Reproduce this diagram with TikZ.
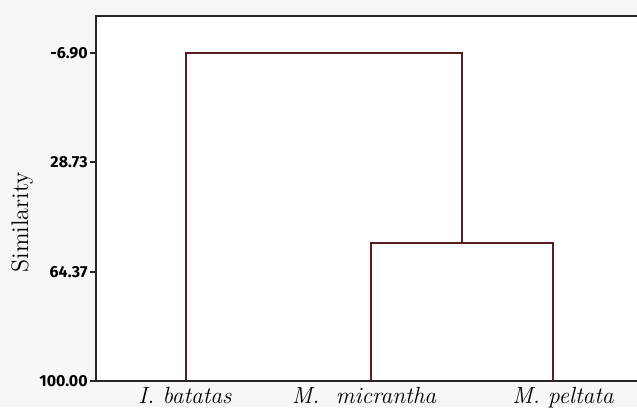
\documentclass[tikz,border=0pt]{standalone}
\usepackage{fontspec}
\newfontfamily\tickfont{Fira Sans}
\usetikzlibrary{positioning}
\definecolor{dend}{HTML}{5A1E22}
\definecolor{paper}{HTML}{F7F7F4}
\tikzset{
  axis/.style={draw=black!85,line width=1.1pt},
  link/.style={draw=dend,line width=1.2pt},
  tick/.style={font=\tickfont\bfseries\fontsize{8}{9}\selectfont,anchor=east,inner sep=1pt},
  leaf/.style={font=\itshape\fontsize{11.7}{12}\selectfont,anchor=base,inner sep=0pt},
}
\begin{document}
\begin{tikzpicture}[x=0.5pt,y=-0.5pt]
 \fill[paper] (0,0) rectangle (637,407); \fill[white] (96,16) rectangle (637,381);
 \useasboundingbox (0,0) rectangle (637,407);
 % axes and ticks
 \draw[axis] (637,16) -- (96,16) -- (96,381) -- (637,381);
 \foreach \v/\y [count=\i] in {-6.90/53,28.73/162,64.37/272,100.00/381}{\draw[axis] (90,\y) -- (96,\y); \node[tick] (t\i) at (90,\y){\v};}
 \node[rotate=90,font=\fontsize{12}{13}\selectfont,inner sep=0pt] (ylab) at (22,222){Similarity};
 % dendrogram
 \coordinate (ib) at (186,381); \coordinate (mm) at (371,381); \coordinate (mp) at (553,381);
 \coordinate (root) at (462,53); \coordinate (sub) at (462,243);
 \draw[link] (ib) |- (root) -- (sub);
 \draw[link] (mm) |- (sub) -| (mp);
 \node[leaf] (lib) at (185,403){I. batatas};
 \node[leaf] (lmm) at (364,403){M.\ \ micrantha};
 \node[leaf] (lmp) at (563,403){M. peltata};
\end{tikzpicture}
\end{document}
